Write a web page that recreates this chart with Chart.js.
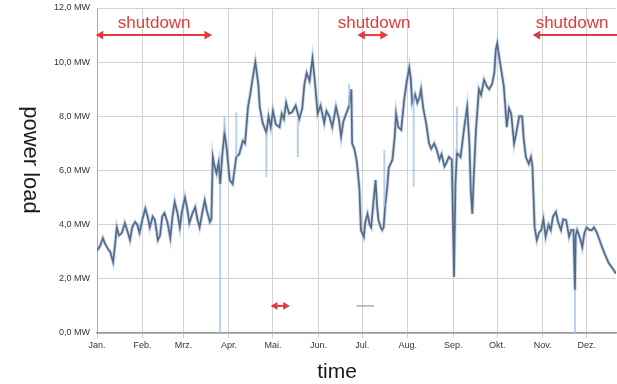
<!DOCTYPE html>
<html lang="en">
<head>
    <meta charset="UTF-8">
    <title>power load</title>
    <script src="https://cdn.jsdelivr.net/npm/chart.js@4/dist/chart.umd.min.js"></script>
    <style>
        body {
            margin: 0;
            background: #fff;
        }
        /* the plot is cut off at the right edge, like in the picture */
        #wrap {
            width: 617px;
            height: 384px;
            overflow: hidden;
        }
        canvas {
            display: block;
        }
    </style>
</head>
<body>
    <div id="wrap">
        <canvas id="loadChart" width="622" height="384"></canvas>
    </div>

    <script>
        // month ticks (day of year) and their labels
        const monthDays = [0, 31, 59, 90, 120, 151, 181, 212, 243, 273, 304, 334];
        const monthLabels = ['Jan.', 'Feb.', 'Mrz.', 'Apr.', 'Mai.', 'Jun.', 'Jul.', 'Aug.', 'Sep.', 'Okt.', 'Nov.', 'Dez.'];

        // load curve (day of year, MW)
        const loadDays = [
            0, 2, 4, 5.5, 7.5, 9, 11, 12, 13.5, 15, 17, 19, 20.5, 22.5, 24, 26, 27.5, 29, 31, 33,
            34.5, 36, 38, 39.5, 41.5, 43, 44.5, 46, 48, 50, 51.5, 53, 55, 56.5, 58, 60, 61.5, 63, 65, 67,
            68.5, 70, 72, 73.5, 75, 77, 78, 79, 80, 81.5, 83, 84, 85.5, 87, 88.5, 90.5, 92.5, 95, 97, 99.5,
            101, 103, 104.5, 106, 108, 110, 111, 113, 115.5, 117, 118.5, 120, 122, 124.5, 126, 127.5, 129, 131, 133, 135.5,
            138, 140, 141.5, 143, 145, 147, 148.5, 150.5, 152.5, 155, 156.5, 158.5, 160.5, 163, 165, 166.5, 168, 170, 172, 173.5,
            174, 175.5, 177, 178, 179, 180, 182, 183, 184.5, 186, 187, 188.5, 190, 191, 192, 193.5, 194.5, 195.5, 196.5, 198,
            199, 201.5, 203, 204, 205.5, 207.5, 209.5, 211, 213, 214, 215, 217, 218.5, 220, 221, 222.5, 224.5, 226.5, 228, 230,
            231.5, 233.5, 235, 237, 238.5, 240, 242, 243.5, 244.5, 245.5, 248, 250.5, 252.5, 254, 255, 256, 257, 258.5, 260.5, 262,
            264, 266, 267.5, 269.5, 271, 272, 273, 275, 277.5, 279.5, 281, 282.5, 284.5, 286, 288, 290, 291, 292.5, 294.5, 296,
            297, 298.5, 300, 301.5, 303, 304.5, 306, 308, 309.5, 311, 313, 314.5, 316.5, 318, 320, 322, 323.5, 325, 326, 326.5,
            327.5, 329.5, 331, 332.5, 334, 336, 337.5, 339, 341, 343, 344.5, 346.5, 349, 351.5, 354
        ];
        const loadValues = [
            3.05, 3.2, 3.5, 3.3, 3.1, 3.0, 2.62, 3.1, 3.9, 3.6, 3.7, 4.06, 3.8, 3.43, 3.9, 4.1, 4.0, 3.7, 4.2, 4.6,
            4.3, 3.9, 4.3, 4.17, 3.43, 3.6, 4.3, 4.43, 4.1, 3.5, 4.3, 4.84, 4.4, 3.9, 4.5, 5.0, 4.6, 4.06, 4.4, 4.65,
            4.2, 3.9, 4.5, 4.9, 4.5, 4.1, 4.2, 6.5, 6.2, 5.9, 6.3, 5.5, 6.6, 7.4, 6.8, 5.65, 5.5, 6.5, 6.6, 7.1,
            7.0, 8.35, 8.8, 9.35, 10.0, 9.2, 8.35, 7.75, 7.4, 8.0, 7.6, 8.2, 7.7, 7.6, 8.1, 7.9, 8.5, 8.1, 8.15, 8.4,
            7.9, 8.3, 9.2, 9.6, 9.3, 10.15, 9.35, 8.1, 8.4, 7.75, 8.2, 8.0, 7.6, 8.35, 7.9, 7.25, 7.8, 8.1, 8.4, 9.0,
            7.0, 6.8, 6.4, 5.9, 5.3, 3.8, 3.55, 4.1, 4.4, 4.0, 3.9, 4.8, 5.65, 4.7, 4.17, 3.9, 3.8, 3.9, 4.65, 5.4,
            6.1, 6.4, 7.2, 8.1, 7.6, 7.5, 8.6, 9.2, 9.8, 9.4, 8.5, 8.8, 8.5, 8.7, 9.0, 8.3, 7.75, 7.0, 6.8, 7.0,
            6.8, 6.4, 6.6, 6.15, 6.3, 6.5, 6.4, 2.07, 5.5, 6.65, 6.5, 7.6, 8.35, 7.0, 5.2, 4.4, 5.8, 7.5, 9.0, 8.8,
            9.35, 9.1, 9.0, 9.2, 9.6, 10.45, 10.7, 9.95, 9.1, 7.6, 8.3, 8.1, 7.0, 7.4, 8.0, 8.0, 7.2, 6.5, 6.25, 6.5,
            6.15, 3.9, 3.43, 3.7, 3.8, 4.2, 3.55, 4.0, 3.8, 4.3, 4.47, 4.1, 3.8, 4.2, 4.17, 3.55, 3.8, 3.8, 1.6, 3.6,
            3.8, 3.5, 3.17, 3.7, 3.9, 3.8, 3.8, 3.9, 3.7, 3.4, 3.17, 2.9, 2.58, 2.4, 2.2
        ];

        // light blue spikes: day, from, to (MW)
        const spikeDays = [84, 87, 95, 115.5, 137, 172, 196, 216, 245.5, 326];
        const spikeFrom = [5.5, 7.4, 6.5, 7.4, 7.9, 8.4, 4.65, 8.8, 6.65, 1.6];
        const spikeTo = [0, 8.0, 8.15, 5.75, 6.5, 9.2, 6.75, 5.4, 8.35, 0];

        // shutdown arrows (day from / to, level in MW)
        const shutdownFrom = [2.5, 181, 300.5];
        const shutdownTo = [75, 195, 358];
        const shutdownLevel = 11.0;
        const labelDays = [39, 189, 324];
        const labelLevel = 11.45;
        const labelText = 'shutdown';

        // small markers near the bottom
        const smallArrowDays = [121.5, 128.5];
        const grayLineDays = [177, 189];
        const smallLevel = 1.0;

        const red = '#e23c3c';

        const loadPoints = loadDays.map((d, i) => ({ x: d, y: loadValues[i] }));
        const spikePoints = [];
        spikeDays.forEach((d, i) => {
            spikePoints.push({ x: d, y: spikeFrom[i] });
            spikePoints.push({ x: d, y: spikeTo[i] });
            spikePoints.push({ x: d, y: null });
        });

        const datasets = [
            {
                data: spikePoints,
                borderColor: 'rgba(160, 192, 228, 0.75)',
                borderWidth: 2,
                pointRadius: 0,
                spanGaps: false
            },
            {
                data: loadPoints,
                borderColor: 'rgba(150, 180, 220, 0.5)',
                borderWidth: 3.5,
                pointRadius: 0,
                tension: 0
            },
            {
                data: loadPoints,
                borderColor: '#17212f',
                borderWidth: 1.7,
                pointRadius: 0,
                tension: 0
            }
        ];

        shutdownFrom.forEach((from, i) => {
            const to = shutdownTo[i];
            const clipped = to > 354;
            datasets.push({
                data: [{ x: from, y: shutdownLevel }, { x: to, y: shutdownLevel }],
                borderColor: red,
                backgroundColor: red,
                borderWidth: 2,
                pointStyle: 'triangle',
                pointRotation: [-90, 90],
                pointRadius: clipped ? [3, 0] : [3, 3],
                clip: false
            });
        });

        datasets.push({
            data: smallArrowDays.map(d => ({ x: d, y: smallLevel })),
            borderColor: red,
            backgroundColor: red,
            borderWidth: 2,
            pointStyle: 'triangle',
            pointRotation: [-90, 90],
            pointRadius: 2.5
        });
        datasets.push({
            data: grayLineDays.map(d => ({ x: d, y: smallLevel })),
            borderColor: '#aaaaaa',
            borderWidth: 1.5,
            pointRadius: 0
        });

        // texts: shutdown labels and the two axis titles
        const textPlugin = {
            id: 'texts',
            afterDraw(chart) {
                const ctx = chart.ctx;
                const xs = chart.scales.x;
                const ys = chart.scales.y;
                ctx.save();
                ctx.fillStyle = red;
                ctx.font = '17px "Liberation Sans", Arial, sans-serif';
                ctx.textAlign = 'center';
                ctx.textBaseline = 'middle';
                labelDays.forEach(d => {
                    ctx.fillText(labelText, xs.getPixelForValue(d), ys.getPixelForValue(labelLevel));
                });

                ctx.fillStyle = '#1a1a1a';
                ctx.font = '21px "Liberation Sans", Arial, sans-serif';
                ctx.fillText('time', 337, 372);

                ctx.translate(30, 160);
                ctx.rotate(Math.PI / 2);
                ctx.font = '22px "Liberation Sans", Arial, sans-serif';
                ctx.fillText('power load', 0, 0);
                ctx.restore();
            }
        };

        new Chart(document.getElementById('loadChart'), {
            type: 'line',
            data: { datasets: datasets },
            options: {
                responsive: false,
                animation: false,
                layout: { padding: { top: 8, left: 0, right: 0, bottom: 0 } },
                plugins: {
                    legend: { display: false },
                    tooltip: { enabled: false }
                },
                scales: {
                    x: {
                        type: 'linear',
                        min: 0,
                        max: 354,
                        afterBuildTicks: function(scale) {
                            scale.ticks = monthDays.map(v => ({ value: v }));
                        },
                        afterFit: function(scale) {
                            scale.height = 51;
                            scale.paddingLeft = 0;
                            scale.paddingRight = 0;
                        },
                        ticks: {
                            autoSkip: false,
                            maxRotation: 0,
                            padding: 2,
                            color: '#333',
                            font: { size: 9, family: '"Liberation Sans", Arial, sans-serif' },
                            callback: function(value, index) {
                                return monthLabels[index];
                            }
                        },
                        grid: {
                            color: '#d2d2d2',
                            lineWidth: 1,
                            drawTicks: true,
                            tickLength: 5
                        },
                        border: { color: '#9a9a9a', width: 1.5 }
                    },
                    y: {
                        min: 0,
                        max: 12,
                        afterFit: function(scale) {
                            scale.width = 97;
                            scale.paddingTop = 0;
                            scale.paddingBottom = 0;
                        },
                        ticks: {
                            stepSize: 2,
                            padding: 7,
                            color: '#333',
                            font: { size: 9, family: '"Liberation Sans", Arial, sans-serif' },
                            callback: function(value) {
                                return value.toFixed(1).replace('.', ',') + ' MW';
                            }
                        },
                        grid: {
                            color: '#d2d2d2',
                            lineWidth: 1,
                            drawTicks: false
                        },
                        border: { color: '#aaaaaa', width: 1 }
                    }
                }
            },
            plugins: [textPlugin]
        });
    </script>
</body>
</html>
